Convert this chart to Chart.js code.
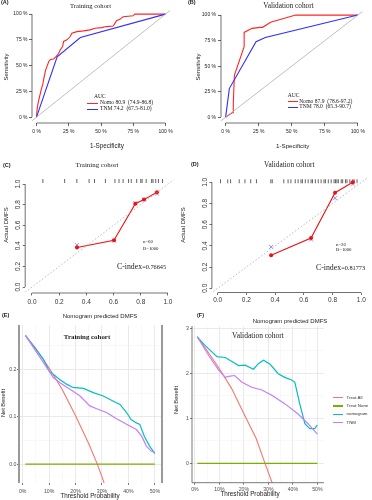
<!DOCTYPE html>
<html>
<head>
<meta charset="utf-8">
<script src="https://cdn.jsdelivr.net/npm/chart.js@4.4.1/dist/chart.umd.min.js"></script>
<style>
  body { margin: 0; background: #fff; }
  #fig { position: relative; width: 372px; height: 500px; overflow: hidden; background: #fff; }
  #fig canvas { position: absolute; }
  .t { position: absolute; white-space: pre; line-height: 1; color: #1a1a1a; }
  .key { position: absolute; height: 1px; }
</style>
</head>
<body>
<div id="fig"></div>
<script>
// ============================================================
// Data
// ============================================================

// ROC: 1 - specificity / sensitivity
const rocTicks = [0, 0.25, 0.5, 0.75, 1];
const trainNomoFpr = [0, 0.005, 0.013, 0.026, 0.036, 0.049, 0.056, 0.069, 0.082, 0.095, 0.108, 0.133, 0.154, 0.172, 0.185, 0.203, 0.21, 0.236, 0.26, 0.274, 0.313, 0.364, 0.415, 0.454, 0.505, 0.544, 0.595, 0.608, 0.62, 0.646, 0.672, 0.749, 0.762, 1];
const trainNomoTpr = [0, 0.08, 0.14, 0.21, 0.265, 0.32, 0.37, 0.45, 0.495, 0.54, 0.56, 0.565, 0.59, 0.62, 0.655, 0.687, 0.735, 0.75, 0.78, 0.815, 0.83, 0.837, 0.847, 0.863, 0.869, 0.879, 0.885, 0.91, 0.936, 0.949, 0.974, 0.984, 1, 1];
const trainTnmFpr = [0, 0.16, 0.34, 1];
const trainTnmTpr = [0, 0.585, 0.773, 1];
const validNomoFpr = [0, 0.046, 0.058, 0.058, 0.066, 0.14, 0.14, 0.2, 0.26, 0.28, 0.34, 0.53, 1];
const validNomoTpr = [0, 0.04, 0.045, 0.13, 0.41, 0.69, 0.83, 0.87, 0.88, 0.88, 0.93, 1, 1];
const validTnmFpr = [0, 0.028, 0.23, 0.3, 1];
const validTnmTpr = [0, 0.28, 0.74, 0.78, 1];
const diagLine = [-0.05, 1.05];

// Calibration: predicted / observed / bias-corrected
const calTicks = [0, 0.2, 0.4, 0.6, 0.8, 1];
const trainCalPred = [0.331, 0.603, 0.76, 0.824, 0.919];
const trainCalObs = [0.384, 0.455, 0.81, 0.849, 0.92];
const trainCalCorr = [0.407, 0.45, 0.815, 0.85, 0.907];
const trainRug = [0.08, 0.24, 0.33, 0.42, 0.46, 0.54, 0.61, 0.64, 0.67, 0.71, 0.73, 0.77, 0.8, 0.81, 0.84, 0.88, 0.89, 0.91, 0.93, 0.96];
const validCalPred = [0.372, 0.65, 0.817, 0.94];
const validCalObs = [0.311, 0.474, 0.902, 1.0];
const validCalCorr = [0.39, 0.46, 0.85, 0.985];
const validRug = [0.02, 0.07, 0.09, 0.15, 0.19, 0.23, 0.27, 0.37, 0.38, 0.46, 0.49, 0.51, 0.54, 0.56, 0.58, 0.59, 0.61, 0.63, 0.65, 0.66, 0.68, 0.7, 0.72, 0.74, 0.75, 0.77, 0.79, 0.81, 0.82, 0.83, 0.84, 0.86, 0.87, 0.89, 0.9, 0.92, 0.94, 0.95, 0.97];
const trainRugY = 1.03;
const validRugY = 1.01;

// Decision curves: threshold / net benefit
const dcaXTicks = [0, 0.05, 0.1, 0.15, 0.2, 0.25, 0.3, 0.35, 0.4, 0.45, 0.5];
const dcaYTicksE = [0, 0.05, 0.1, 0.15, 0.2, 0.25];
const dcaYTicksF = [0, 0.05, 0.1, 0.15, 0.2, 0.25, 0.3];
const noneX = [0.01, 0.5];
const noneY = [0, 0];

const eAllX = [0.01, 0.05, 0.1, 0.15, 0.2, 0.25, 0.28, 0.3, 0.32];
const eAllY = [0.272, 0.244, 0.203, 0.157, 0.102, 0.043, 0.003, -0.027, -0.06];
const eNomoX = [0.01, 0.04, 0.078, 0.1, 0.14, 0.166, 0.19, 0.23, 0.267, 0.305, 0.343, 0.368, 0.393, 0.41, 0.43, 0.443, 0.46, 0.48, 0.5];
const eNomoY = [0.272, 0.25, 0.222, 0.197, 0.179, 0.169, 0.162, 0.16, 0.151, 0.144, 0.133, 0.126, 0.109, 0.094, 0.087, 0.084, 0.059, 0.038, 0.022];
const eTnmX = [0.01, 0.078, 0.116, 0.141, 0.179, 0.217, 0.254, 0.28, 0.317, 0.355, 0.393, 0.43, 0.45, 0.468, 0.487, 0.5];
const eTnmY = [0.272, 0.215, 0.183, 0.172, 0.158, 0.144, 0.123, 0.117, 0.109, 0.096, 0.084, 0.073, 0.059, 0.038, 0.027, 0.025];

const fAllX = [0.0095, 0.05, 0.1, 0.15, 0.2, 0.25, 0.286, 0.32];
const fAllY = [0.281, 0.25, 0.21, 0.166, 0.11, 0.055, 0.0, -0.05];
const fNomoX = [0.0095, 0.043, 0.09, 0.124, 0.151, 0.178, 0.205, 0.239, 0.26, 0.28, 0.307, 0.34, 0.367, 0.395, 0.408, 0.428, 0.449, 0.469, 0.489, 0.5];
const fNomoY = [0.281, 0.261, 0.237, 0.235, 0.226, 0.217, 0.218, 0.209, 0.222, 0.229, 0.22, 0.199, 0.191, 0.185, 0.18, 0.132, 0.088, 0.077, 0.077, 0.085];
const fTnmX = [0.0095, 0.057, 0.097, 0.124, 0.138, 0.162, 0.192, 0.232, 0.273, 0.314, 0.368, 0.42, 0.462, 0.5];
const fTnmY = [0.281, 0.239, 0.207, 0.191, 0.193, 0.195, 0.18, 0.169, 0.163, 0.151, 0.132, 0.11, 0.088, 0.065];

// ============================================================
// Helpers
// ============================================================
const SANS = '"Liberation Sans", Arial, sans-serif';
const SERIF = '"Liberation Serif", "Times New Roman", serif';
const fig = document.getElementById('fig');

const pts = (xs, ys) => xs.map((x, i) => ({ x, y: ys[i] }));
const isMajor = v => Math.abs(Math.round(v * 10) - v * 10) < 1e-6;

// R style axis lines: only span the first..last tick
const rAxisPlugin = {
  id: 'rAxis',
  afterDraw(chart, args, opts) {
    if (!opts.on) return;
    const { ctx, chartArea, scales: { x, y } } = chart;
    const xt = x.ticks, yt = y.ticks;
    ctx.save();
    ctx.strokeStyle = opts.color || '#222';
    ctx.lineWidth = opts.width || 0.8;
    ctx.beginPath();
    ctx.moveTo(x.getPixelForValue(xt[0].value), chartArea.bottom);
    ctx.lineTo(x.getPixelForValue(xt[xt.length - 1].value), chartArea.bottom);
    ctx.moveTo(chartArea.left, y.getPixelForValue(yt[0].value));
    ctx.lineTo(chartArea.left, y.getPixelForValue(yt[yt.length - 1].value));
    ctx.stroke();
    ctx.restore();
  }
};

// panel border sides (ggplot panels)
const framePlugin = {
  id: 'frame',
  afterDraw(chart, args, opts) {
    if (!opts.sides) return;
    const { ctx, chartArea: a } = chart;
    ctx.save();
    ctx.strokeStyle = opts.color;
    ctx.lineWidth = opts.width;
    ctx.beginPath();
    opts.sides.forEach(s => {
      if (s === 'left') { ctx.moveTo(a.left, a.top); ctx.lineTo(a.left, a.bottom); }
      if (s === 'right') { ctx.moveTo(a.right, a.top); ctx.lineTo(a.right, a.bottom); }
      if (s === 'bottom') { ctx.moveTo(a.left, a.bottom); ctx.lineTo(a.right, a.bottom); }
    });
    ctx.stroke();
    ctx.restore();
  }
};

function makeChart(rect, area, cfg) {
  const c = document.createElement('canvas');
  c.width = rect.w;
  c.height = rect.h;
  c.style.left = rect.x + 'px';
  c.style.top = rect.y + 'px';
  fig.appendChild(c);

  const yW = area.left - rect.x;
  const xH = rect.y + rect.h - area.bottom;
  cfg.scales.x.afterFit = s => { s.height = xH; };
  cfg.scales.y.afterFit = s => { s.width = yW; };

  return new Chart(c, {
    type: 'scatter',
    data: { datasets: cfg.datasets },
    options: {
      responsive: false,
      animation: false,
      events: [],
      layout: { padding: { left: 0, bottom: 0, top: area.top - rect.y, right: rect.x + rect.w - area.right } },
      scales: cfg.scales,
      plugins: {
        legend: { display: false },
        tooltip: { enabled: false },
        rAxis: cfg.rAxis || {},
        frame: cfg.frame || {}
      }
    },
    plugins: [rAxisPlugin, framePlugin]
  });
}

function axis(min, max, ticks, o) {
  return {
    type: 'linear', min, max,
    afterBuildTicks: s => { s.ticks = ticks.map(v => ({ value: v })); },
    ticks: Object.assign({ autoSkip: false, maxRotation: 0, minRotation: 0 }, o.ticks),
    grid: o.grid,
    border: { display: false }
  };
}

function label(text, x, y, o = {}) {
  const d = document.createElement('div');
  d.className = 't';
  if (o.html) d.innerHTML = text; else d.textContent = text;
  d.style.left = x + 'px';
  d.style.top = y + 'px';
  d.style.fontSize = (o.size || 6) + 'px';
  d.style.fontFamily = o.serif ? SERIF : SANS;
  if (o.bold) d.style.fontWeight = 'bold';
  if (o.color) d.style.color = o.color;
  const ax = o.align === 'left' ? '0' : '-50%';
  const ay = o.top ? '0' : '-50%';
  d.style.transform = `translate(${ax}, ${ay})` + (o.rot ? ' rotate(-90deg)' : '');
  fig.appendChild(d);
}

function key(x, y, w, color, h) {
  const d = document.createElement('div');
  d.className = 'key';
  d.style.left = x + 'px';
  d.style.top = (y - (h || 1) / 2) + 'px';
  d.style.width = w + 'px';
  d.style.height = (h || 1) + 'px';
  d.style.background = color;
  fig.appendChild(d);
}

const line = (data, color, width, extra) => Object.assign({ data, showLine: true, pointRadius: 0, borderColor: color, borderWidth: width, fill: false }, extra);

// ============================================================
// ROC panels (A, B)
// ============================================================
const ROC_RED = '#ff2424';
const ROC_BLUE = '#2e2eff';
const ROC_GREY = '#b8b8b8';

function rocPanel(rect, area, nomo, tnm, yPad) {
  const tickFont = { size: 5, family: SANS };
  const grid = { drawOnChartArea: false, tickLength: 3, tickColor: '#222', lineWidth: 0.7 };
  makeChart(rect, area, {
    datasets: [
      line(pts(diagLine, diagLine), ROC_GREY, 0.9),
      line(tnm, ROC_BLUE, 1.1),
      line(nomo, ROC_RED, 1.1)
    ],
    scales: {
      x: axis(-0.035, 1.035, rocTicks, { ticks: { font: tickFont, color: '#222', padding: 3, callback: v => Math.round(v * 100) + ' %' }, grid }),
      y: axis(-0.057, 1.04, rocTicks, { ticks: { font: tickFont, color: '#222', padding: yPad, callback: v => Math.round(v * 100) + ' %' }, grid })
    },
    rAxis: { on: true, color: '#333', width: 0.7 }
  });
}

rocPanel({ x: 0, y: 0, w: 186, h: 160 }, { left: 32, right: 170, top: 10, bottom: 123 },
  pts(trainNomoFpr, trainNomoTpr), pts(trainTnmFpr, trainTnmTpr), 1.5);
rocPanel({ x: 186, y: 0, w: 186, h: 160 }, { left: 221, right: 362.5, top: 11, bottom: 123 },
  pts(validNomoFpr, validNomoTpr), pts(validTnmFpr, validTnmTpr), 2);

label('(A)', 1, 0, { size: 5.5, bold: true, align: 'left', top: true });
label('Training cohort', 90.5, 6, { size: 6.6, serif: true });
label('Sensitivity', 6, 67, { size: 6, rot: true });
label('1-Specificity', 107, 146, { size: 6.3 });
label('AUC', 94, 97, { size: 5.6, serif: true, align: 'left' });
key(87, 103, 11, ROC_RED);
label('Nomo 80.9  (74.9-86.8)', 100, 103, { size: 5.6, serif: true, align: 'left' });
key(87, 109.3, 11, ROC_BLUE);
label('TNM 74.2  (67.5-81.0)', 100, 109.3, { size: 5.6, serif: true, align: 'left' });

label('(B)', 188, 0, { size: 5.5, bold: true, align: 'left', top: true });
label('Validation cohort', 288.5, 6, { size: 7.3, serif: true });
label('Sensitivity', 197.7, 66.7, { size: 6, rot: true });
label('1-Specificity', 292.7, 145.7, { size: 6.2 });
label('AUC', 287.7, 96, { size: 5.6, serif: true, align: 'left' });
key(287.7, 101.7, 10, ROC_RED);
label('Nomo 87.9  (78.6-97.2)', 299.3, 101.7, { size: 5.6, serif: true, align: 'left' });
key(287.7, 107.3, 10, ROC_BLUE);
label('TNM 78.0  (65.3-90.7)', 299.3, 107.3, { size: 5.6, serif: true, align: 'left' });

// ============================================================
// Calibration panels (C, D)
// ============================================================
const CAL_RED = '#ee1111';
const CAL_BLUE = '#7f7fff';

function calPanel(rect, area, range, pred, obs, corr, rug, rugY, xPad) {
  const tickFont = { size: 6.5, family: SANS };
  const grid = { drawOnChartArea: false, tickLength: 2.5, tickColor: '#333', lineWidth: 0.7 };
  makeChart(rect, area, {
    datasets: [
      line(pts(diagLine, diagLine), '#a8a8a8', 0.8, { borderDash: [1.5, 2] }),
      line(pts(pred, obs), CAL_RED, 1.1, { pointRadius: 2, pointBackgroundColor: CAL_RED, pointBorderWidth: 0 }),
      { data: pts(pred, corr), pointStyle: 'crossRot', pointRadius: 2.8, borderColor: CAL_BLUE, borderWidth: 0.9, showLine: false },
      { data: rug.map(v => ({ x: v, y: rugY })), pointStyle: 'line', rotation: 90, pointRadius: 2, borderColor: '#222', borderWidth: 0.7, showLine: false }
    ],
    scales: {
      x: axis(range.x[0], range.x[1], calTicks, { ticks: { font: tickFont, color: '#333', padding: xPad, callback: v => v.toFixed(1) }, grid }),
      y: axis(range.y[0], range.y[1], calTicks, { ticks: { font: tickFont, color: '#333', padding: 0, minRotation: 90, maxRotation: 90, crossAlign: 'center', callback: v => v.toFixed(1) }, grid })
    },
    rAxis: { on: true, color: '#333', width: 0.7 }
  });
}

calPanel({ x: 0, y: 160, w: 186, h: 155 }, { left: 25.2, right: 173.4, top: 177.9, bottom: 293 },
  { x: [-0.05, 1.04], y: [-0.058, 1.06] }, trainCalPred, trainCalObs, trainCalCorr, trainRug, trainRugY, 3);
calPanel({ x: 186, y: 160, w: 186, h: 155 }, { left: 211.9, right: 369.1, top: 178.1, bottom: 292.5 },
  { x: [-0.04, 1.04], y: [-0.04, 1.04] }, validCalPred, validCalObs, validCalCorr, validRug, validRugY, 1);

label('(C)', 3, 163, { size: 5.5, bold: true, align: 'left', top: true });
label('Training cohort', 97, 164.5, { size: 6.9, serif: true });
label('Actual DMFS', 6, 225, { size: 6, rot: true });
label('Nomogram predicted DMFS', 100, 316, { size: 6 });
label('n=60', 143, 241.5, { size: 4.8, serif: true, align: 'left' });
label('B=1000', 143, 249, { size: 4.8, serif: true, align: 'left' });
label('<span style="font-size:7.8px">C-index</span>=0.76645', 117, 267, { size: 6.3, serif: true, align: 'left', html: true });

label('(D)', 191, 162, { size: 5.5, bold: true, align: 'left', top: true });
label('Validation cohort', 289.3, 164.7, { size: 7.3, serif: true });
label('Actual DMFS', 183, 225, { size: 6, rot: true });
label('Nomogram predicted DMFS', 290, 321, { size: 6 });
label('n=20', 336, 244.5, { size: 4.8, serif: true, align: 'left' });
label('B=1000', 336, 250, { size: 4.8, serif: true, align: 'left' });
label('<span style="font-size:7.8px">C-index</span>=0.81773', 316, 268, { size: 6.3, serif: true, align: 'left', html: true });

// ============================================================
// Decision curve panels (E, F)
// ============================================================
const C_ALL = '#F8766D';
const C_NONE = '#7CAE00';
const C_NOMO = '#00BFC4';
const C_TNM = '#C77CFF';

function dcaPanel(rect, area, range, yTicks, series, xPad, yPad, frame) {
  const tickFont = { size: 5.2, family: SANS };
  const grid = {
    drawOnChartArea: true,
    tickLength: 2,
    color: c => isMajor(c.tick.value) ? '#e4e4e4' : '#f1f1f1',
    lineWidth: c => isMajor(c.tick.value) ? 0.8 : 0.5,
    tickColor: c => isMajor(c.tick.value) ? '#555' : 'rgba(0,0,0,0)'
  };
  makeChart(rect, area, {
    datasets: [
      line(series.none, C_NONE, 1.3),
      line(series.tnm, C_TNM, 1.2),
      line(series.nomo, C_NOMO, 1.2),
      line(series.all, C_ALL, 1.1)
    ],
    scales: {
      x: axis(range.x[0], range.x[1], dcaXTicks, { ticks: { font: tickFont, color: '#4d4d4d', padding: xPad, callback: v => isMajor(v) ? Math.round(v * 100) + '%' : '' }, grid }),
      y: axis(range.y[0], range.y[1], yTicks, { ticks: { font: tickFont, color: '#4d4d4d', padding: yPad, callback: v => isMajor(v) ? v.toFixed(1) : '' }, grid })
    },
    frame
  });
}

dcaPanel({ x: 0, y: 318, w: 186, h: 182 }, { left: 19, right: 162, top: 325, bottom: 483 },
  { x: [-0.014, 0.527], y: [-0.04, 0.294] }, dcaYTicksE,
  { none: pts(noneX, noneY), tnm: pts(eTnmX, eTnmY), nomo: pts(eNomoX, eNomoY), all: pts(eAllX, eAllY) },
  3, 0.5, { sides: ['left', 'right'], color: '#9a9a9a', width: 2 });
dcaPanel({ x: 186, y: 318, w: 186, h: 182 }, { left: 192, right: 324, top: 326, bottom: 482.7 },
  { x: [-0.012, 0.527], y: [-0.043, 0.305] }, dcaYTicksF,
  { none: pts(noneX, noneY), tnm: pts(fTnmX, fTnmY), nomo: pts(fNomoX, fNomoY), all: pts(fAllX, fAllY) },
  2, 1, { sides: ['left', 'bottom'], color: '#555', width: 0.8 });

label('(E)', 2, 313, { size: 5.5, bold: true, align: 'left', top: true });
label('Training cohort', 87, 337.3, { size: 6.9, serif: true, bold: true });
label('Net Benefit', 4, 403, { size: 5.7, rot: true });
label('Threshold Probability', 90, 496, { size: 6.3 });

label('(F)', 197, 313, { size: 5.5, bold: true, align: 'left', top: true });
label('Validation cohort', 258, 336, { size: 7.5, serif: true });
label('Net Benefit', 177, 400, { size: 5.7, rot: true });
label('Threshold Probability', 250, 494, { size: 6.3 });

// legend of panel F
[['Treat All', C_ALL, 397.5], ['Treat None', C_NONE, 406], ['nomogram', C_NOMO, 414.3], ['TNM', C_TNM, 422.5]].forEach(([name, color, y]) => {
  key(333, y, 10, color, 1.2);
  label(name, 346.5, y, { size: 4.4, align: 'left', color: '#333' });
});
</script>
</body>
</html>
